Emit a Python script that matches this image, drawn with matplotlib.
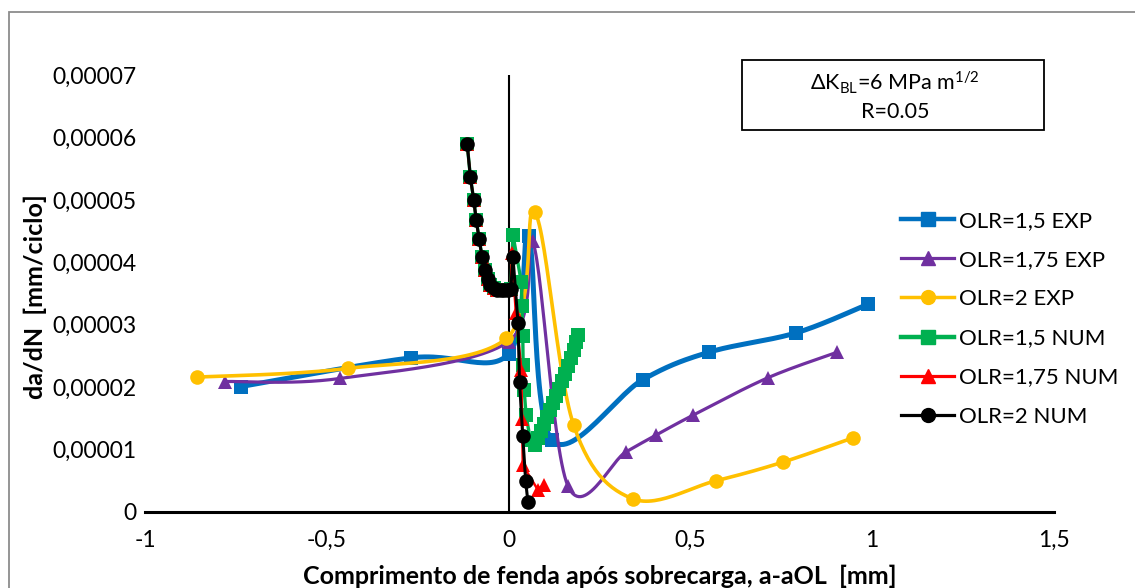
import matplotlib
matplotlib.use("Agg")
import matplotlib.pyplot as plt
import numpy as np
from matplotlib.lines import Line2D
from matplotlib.patches import Rectangle

plt.rcParams["font.family"] = ["Lato", "DejaVu Sans"]
plt.rcParams["mathtext.fontset"] = "custom"
plt.rcParams["mathtext.rm"] = "Lato"
plt.rcParams["mathtext.it"] = "Lato"

# dados experimentais (da/dN em 1e-5 mm/ciclo)
exp15_x = [-0.736, -0.268, 0.0, 0.055, 0.118, 0.369, 0.551, 0.791, 0.989]
exp15_y = [2.01, 2.47, 2.53, 4.42, 1.16, 2.12, 2.56, 2.87, 3.33]

exp175_x = [-0.780, -0.463, 0.0, 0.066, 0.163, 0.322, 0.405, 0.507, 0.713, 0.904]
exp175_y = [2.09, 2.14, 2.73, 4.34, 0.42, 0.96, 1.23, 1.55, 2.15, 2.56]

exp2_x = [-0.857, -0.443, -0.006, 0.072, 0.179, 0.342, 0.570, 0.755, 0.948]
exp2_y = [2.16, 2.30, 2.78, 4.80, 1.39, 0.21, 0.50, 0.80, 1.19]

# dados numéricos: troço comum antes da sobrecarga
num_pre_x = [-0.114, -0.105, -0.096, -0.089, -0.081, -0.073, -0.066, -0.058,
             -0.050, -0.041, -0.032, -0.022, -0.012, -0.002, 0.006]
num_pre_y = [5.90, 5.36, 5.00, 4.68, 4.37, 4.09, 3.88, 3.73,
             3.64, 3.59, 3.56, 3.55, 3.55, 3.55, 3.57]

num15_x = [0.012, 0.035, 0.037, 0.039, 0.040, 0.043, 0.048, 0.060, 0.072,
           0.080, 0.088, 0.096, 0.105, 0.113, 0.121, 0.130, 0.138, 0.146,
           0.154, 0.163, 0.171, 0.179, 0.185, 0.190]
num15_y = [4.44, 3.68, 3.30, 2.82, 2.35, 1.95, 1.55, 1.15, 1.07,
           1.19, 1.30, 1.41, 1.52, 1.64, 1.75, 1.86, 1.97, 2.10,
           2.21, 2.34, 2.47, 2.60, 2.72, 2.84]

num175_x = [0.009, 0.020, 0.035, 0.037, 0.039, 0.080, 0.097]
num175_y = [4.15, 3.18, 2.28, 1.49, 0.75, 0.36, 0.44]

num2_x = [0.012, 0.026, 0.030, 0.039, 0.047, 0.053]
num2_y = [4.08, 3.02, 2.09, 1.21, 0.49, 0.165]

labels = ["OLR=1,5 EXP", "OLR=1,75 EXP", "OLR=2 EXP",
          "OLR=1,5 NUM", "OLR=1,75 NUM", "OLR=2 NUM"]

x_ticks = [-1, -0.5, 0, 0.5, 1, 1.5]
x_tick_labels = ["-1", "-0,5", "0", "0,5", "1", "1,5"]
y_ticks = [0, 1e-5, 2e-5, 3e-5, 4e-5, 5e-5, 6e-5, 7e-5]
y_tick_labels = ["0", "0,00001", "0,00002", "0,00003", "0,00004",
                 "0,00005", "0,00006", "0,00007"]


def smooth(xs, ys, n=30):
    """Linha suavizada tipo Excel (Bezier / Catmull-Rom)."""
    p = np.column_stack([xs, ys]).astype(float)
    out = [p[0]]
    for i in range(len(p) - 1):
        p0 = p[i - 1] if i > 0 else p[i]
        p1 = p[i]
        p2 = p[i + 1]
        p3 = p[i + 2] if i + 2 < len(p) else p[i + 1]
        c1 = p1 + (p2 - p0) / 6
        c2 = p2 - (p3 - p1) / 6
        t = np.linspace(0, 1, n)[1:, None]
        seg = ((1 - t) ** 3) * p1 + 3 * ((1 - t) ** 2) * t * c1 \
            + 3 * (1 - t) * t ** 2 * c2 + t ** 3 * p2
        out.extend(seg)
    out = np.array(out)
    return out[:, 0], out[:, 1]


fig = plt.figure(figsize=(11.35, 5.88), dpi=100)
ax = fig.add_axes([145 / 1135, 1 - 512 / 588, 909 / 1135, 437 / 588])

# moldura cinzenta da área do gráfico
fig.patches.append(Rectangle((9 / 1135, -0.1), 1.2, 1 - 12 / 588 + 0.1,
                             transform=fig.transFigure, fill=False,
                             edgecolor="#8c8c8c", linewidth=1.3))

blue = "#0070C0"
purple = "#7030A0"
yellow = "#FFC000"
green = "#00B050"
red = "#FF0000"

exp_series = [
    (exp15_x, exp15_y, blue, "s", 3.6, 10),
    (exp175_x, exp175_y, purple, "^", 2.3, 10.5),
    (exp2_x, exp2_y, yellow, "o", 2.6, 10.5),
]
for xs, ys, c, m, lw, ms in exp_series:
    sx, sy = smooth(xs, ys)
    ax.plot(sx, sy * 1e-5, color=c, linewidth=lw, solid_capstyle="round")
    ax.plot(xs, np.array(ys) * 1e-5, linestyle="none", marker=m,
            markersize=ms, color=c, markeredgewidth=0)

num_series = [
    (num15_x, num15_y, green, "s", 2.4, 10),
    (num175_x, num175_y, red, "^", 1.8, 9.5),
    (num2_x, num2_y, "black", "o", 2.2, 10.5),
]
for xs, ys, c, m, lw, ms in num_series:
    x_all = num_pre_x + xs
    y_all = np.array(num_pre_y + ys) * 1e-5
    ax.plot(x_all, y_all, color=c, linewidth=lw, marker=m, markersize=ms,
            markeredgewidth=0)

ax.axvline(0, color="black", linewidth=1.5, zorder=1)

ax.set_xlim(-1, 1.5)
ax.set_ylim(0, 7e-5)
ax.set_xticks(x_ticks)
ax.set_xticklabels(x_tick_labels)
ax.set_yticks(y_ticks)
ax.set_yticklabels(y_tick_labels)
ax.tick_params(axis="both", length=0, labelsize=16.5)
ax.tick_params(axis="x", pad=13)
ax.tick_params(axis="y", pad=6)
for side in ["left", "right", "top"]:
    ax.spines[side].set_visible(False)
ax.spines["bottom"].set_linewidth(2.2)
ax.spines["bottom"].set_color("black")

fig.text(600 / 1135, 1 - 576 / 588,
         "Comprimento de fenda após sobrecarga, a-aOL  [mm]",
         ha="center", va="center", fontsize=18, fontweight="bold")
fig.text(35 / 1135, 1 - 297 / 588, "da/dN  [mm/ciclo]", rotation=90,
         ha="center", va="center", fontsize=18, fontweight="bold")

# caixa de texto
fig.patches.append(Rectangle((742 / 1135, 1 - 130 / 588), 302 / 1135,
                             70 / 588, transform=fig.transFigure,
                             facecolor="white", edgecolor="black",
                             linewidth=1.3))
fig.text(895 / 1135, 1 - 83 / 588,
         r"ΔK$_{\mathrm{BL}}$=6 MPa m$^{\mathrm{1/2}}$",
         ha="center", va="center", fontsize=15.5)
fig.text(895 / 1135, 1 - 112 / 588, "R=0.05",
         ha="center", va="center", fontsize=15.5)

handles = [
    Line2D([], [], color=blue, marker="s", linewidth=3.2, markersize=10),
    Line2D([], [], color=purple, marker="^", linewidth=2.3, markersize=10),
    Line2D([], [], color=yellow, marker="o", linewidth=2.5, markersize=10),
    Line2D([], [], color=green, marker="s", linewidth=3.2, markersize=10),
    Line2D([], [], color=red, marker="^", linewidth=2.3, markersize=10),
    Line2D([], [], color="black", marker="o", linewidth=2.3, markersize=10),
]
ax.legend(handles, labels, loc="upper left",
          bbox_to_anchor=(901 / 1135, 1 - 211 / 588),
          bbox_transform=fig.transFigure, frameon=False, fontsize=16,
          handlelength=2.4, handletextpad=0.2, labelspacing=0.86,
          borderpad=0, borderaxespad=0, numpoints=1)

fig.savefig("out.png", dpi=100)
